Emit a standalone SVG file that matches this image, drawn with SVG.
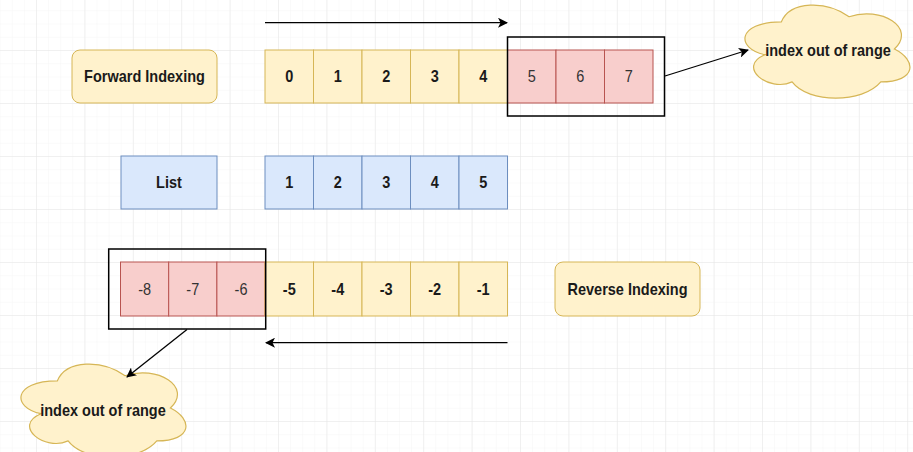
<svg xmlns="http://www.w3.org/2000/svg" width="913" height="452" viewBox="0 0 913 452">
<defs>
<pattern id="minor" x="36" y="-3" width="12.1" height="13.25" patternUnits="userSpaceOnUse">
<path d="M0,0 V13.25 M0,0 H12.1" fill="none" stroke="#f5f5f5" stroke-width="1"/>
</pattern>
<pattern id="major" x="36" y="-3" width="48.4" height="53" patternUnits="userSpaceOnUse">
<path d="M0,0 V53 M0,0 H48.4" fill="none" stroke="#e6e6e6" stroke-width="1"/>
</pattern>
<marker id="arr" viewBox="0 0 10 10" refX="9" refY="5" markerWidth="10" markerHeight="10" markerUnits="userSpaceOnUse" orient="auto">
<path d="M0,0 L10,5 L0,10 L2.5,5 Z" fill="#000"/>
</marker>
<style>
.y{fill:#fff2cc;stroke:#d6b656;stroke-width:1}
.b{fill:#dae8fc;stroke:#6c8ebf;stroke-width:1}
.r{fill:#f8cecc;stroke:#b85450;stroke-width:1}
.hl{fill:none;stroke:#000;stroke-width:1.5}
.t,.n{font-family:"Liberation Sans",Arial,sans-serif;font-size:14.5px;text-anchor:middle;dominant-baseline:central;transform-box:fill-box;transform-origin:center;transform:scaleY(1.1)}
.t{font-weight:bold;fill:#1a1a1a}
.n{font-weight:normal;fill:#333}
.c{fill:#fff2cc;stroke:#d6b656;stroke-width:1.2}
.ln{fill:none;stroke:#000;stroke-width:1.3}
</style>
</defs>
<rect width="913" height="452" fill="#fff"/>
<rect width="913" height="452" fill="url(#minor)"/>
<rect width="913" height="452" fill="url(#major)"/>

<g id="forward-label">
<rect class="y" x="72" y="50" width="145" height="53" rx="8"/>
<text class="t" x="144.5" y="76.5">Forward Indexing</text>
</g>
<g id="forward-cells">
<rect class="y" x="265" y="50" width="48.5" height="53"/><text class="t" x="289.25" y="76.5">0</text>
<rect class="y" x="313.5" y="50" width="48.5" height="53"/><text class="t" x="337.75" y="76.5">1</text>
<rect class="y" x="362" y="50" width="48.5" height="53"/><text class="t" x="386.25" y="76.5">2</text>
<rect class="y" x="410.5" y="50" width="48.5" height="53"/><text class="t" x="434.75" y="76.5">3</text>
<rect class="y" x="459" y="50" width="48.5" height="53"/><text class="t" x="483.25" y="76.5">4</text>
<rect class="r" x="507.5" y="50" width="48.5" height="53"/><text class="n" x="531.75" y="76.5">5</text>
<rect class="r" x="556" y="50" width="48.5" height="53"/><text class="n" x="580.25" y="76.5">6</text>
<rect class="r" x="604.5" y="50" width="48.5" height="53"/><text class="n" x="628.75" y="76.5">7</text>
</g>
<g id="forward-highlight"><rect class="hl" x="507.5" y="37" width="157" height="79"/></g>

<g id="list-label">
<rect class="b" x="121" y="156" width="96" height="53"/>
<text class="t" x="169" y="182.5">List</text>
</g>
<g id="list-cells">
<rect class="b" x="265" y="156" width="48.5" height="53"/><text class="t" x="289.25" y="182.5">1</text>
<rect class="b" x="313.5" y="156" width="48.5" height="53"/><text class="t" x="337.75" y="182.5">2</text>
<rect class="b" x="362" y="156" width="48.5" height="53"/><text class="t" x="386.25" y="182.5">3</text>
<rect class="b" x="410.5" y="156" width="48.5" height="53"/><text class="t" x="434.75" y="182.5">4</text>
<rect class="b" x="459" y="156" width="48.5" height="53"/><text class="t" x="483.25" y="182.5">5</text>
</g>

<g id="reverse-cells">
<rect class="r" x="120.5" y="262" width="48.2" height="54"/><text class="n" x="144.6" y="289">-8</text>
<rect class="r" x="168.7" y="262" width="48.2" height="54"/><text class="n" x="192.8" y="289">-7</text>
<rect class="r" x="216.9" y="262" width="48.1" height="54"/><text class="n" x="241" y="289">-6</text>
<rect class="y" x="265" y="262" width="48.5" height="54"/><text class="t" x="289.25" y="289">-5</text>
<rect class="y" x="313.5" y="262" width="48.5" height="54"/><text class="t" x="337.75" y="289">-4</text>
<rect class="y" x="362" y="262" width="48.5" height="54"/><text class="t" x="386.25" y="289">-3</text>
<rect class="y" x="410.5" y="262" width="48.5" height="54"/><text class="t" x="434.75" y="289">-2</text>
<rect class="y" x="459" y="262" width="48.5" height="54"/><text class="t" x="483.25" y="289">-1</text>
</g>
<g id="reverse-highlight"><rect class="hl" x="108.7" y="249" width="157" height="80"/></g>
<g id="reverse-label">
<rect class="y" x="555" y="262" width="145" height="54" rx="8"/>
<text class="t" x="627.5" y="289">Reverse Indexing</text>
</g>

<g id="cloud-top">
<path class="c" d="M781.3,21.9 C736.0,21.9 736.0,49.0 765.0,54.7 C736.0,66.7 768.6,92.7 792.1,81.9 C808.4,103.6 862.7,103.6 880.8,81.9 C917.0,81.9 917.0,60.2 894.4,49.0 C917.0,27.6 880.8,5.9 849.1,16.7 C826.5,0.4 790.3,0.4 781.3,21.9 Z"/>
<text class="t" x="828" y="50">index out of range</text>
</g>
<g id="cloud-bottom">
<path class="c" d="M57.3,380.9 C12,380.9 12,408.0 41.0,413.7 C12,425.7 44.6,451.7 68.1,440.9 C84.4,462.6 138.7,462.6 156.8,440.9 C193,440.9 193,419.2 170.4,408.0 C193,386.6 156.8,364.9 125.1,375.7 C102.5,359.4 66.3,359.4 57.3,380.9 Z"/>
<text class="t" x="103" y="410">index out of range</text>
</g>

<g id="connectors">
<line class="ln" x1="265" y1="22.7" x2="507" y2="22.7" marker-end="url(#arr)"/>
<line class="ln" x1="507.5" y1="342.7" x2="266" y2="342.7" marker-end="url(#arr)"/>
<line class="ln" x1="665" y1="76" x2="748" y2="50" marker-end="url(#arr)"/>
<line class="ln" x1="187" y1="329.5" x2="127" y2="377" marker-end="url(#arr)"/>
</g>
</svg>
